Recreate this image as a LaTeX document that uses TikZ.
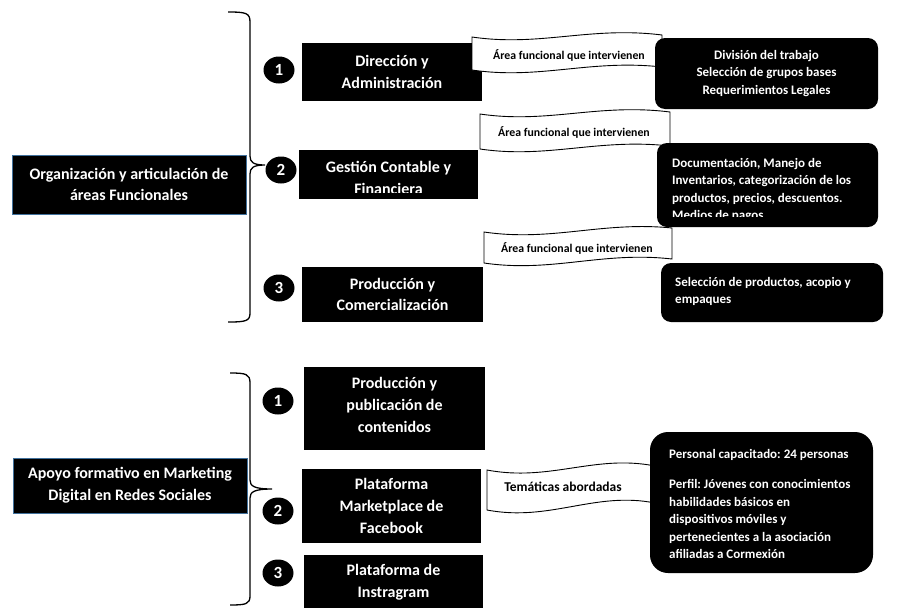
\documentclass[tikz,border=0pt]{standalone}
\usepackage{fontspec}
\setmainfont{Carlito}
\usetikzlibrary{shapes.geometric}
\definecolor{boxblue}{RGB}{65,113,156}
\frenchspacing
\begin{document}
\begin{tikzpicture}[x=1pt,y=-1pt,
  blk/.style={fill=black, draw=none, inner sep=0pt, outer sep=0pt, anchor=north west},
  mainbox/.style={blk, draw=boxblue, line width=1pt},
  rbox/.style={blk, rounded corners=10pt},
  ttl/.style={text=white, font=\bfseries\fontsize{16}{21.8}\selectfont, align=center, inner sep=0pt},
  rtx/.style={text=white, font=\bfseries\fontsize{13}{17.5}\selectfont, inner sep=0pt},
  ban/.style={draw=black, fill=white, line width=0.9pt},
  bantx/.style={font=\bfseries\fontsize{11.8}{13}\selectfont, inner sep=0pt},
  num/.style={ellipse, fill=black, minimum width=31pt, minimum height=27pt, inner sep=0pt, text=white, font=\bfseries\fontsize{17}{17}\selectfont},
  brc/.style={draw=black, line width=1.3pt}
]
\useasboundingbox[fill=white] (0,0) rectangle (901,608);

% ---------- top section ----------
\node[mainbox, ttl, minimum width=234, minimum height=59] (org) at (12,155) {Organización y articulación de\\áreas Funcionales};

\draw[brc] (228,12) .. controls (246,12) and (250,13) .. (250,22) -- (250,156)
  .. controls (250,162) and (253,165) .. (265,165)
  .. controls (253,165) and (250,168) .. (250,174) -- (250,313)
  .. controls (250,321) and (246,322) .. (228,322);

\node[num] (n1) at (279,70) {1};
\node[num] (n2) at (281,170) {2};
\node[num] (n3) at (279,288) {3};

\node[blk, ttl, minimum width=180, minimum height=58] (b1) at (302,43) {Dirección y\\Administración};
\node[blk, minimum width=179, minimum height=49] (b2) at (299,150) {};
\begin{scope}
  \clip (299,150) rectangle (478,192);
  \node[ttl] (b2t) at (388.5,178) {Gestión Contable y\\Financiera};
\end{scope}
\node[blk, ttl, minimum width=181, minimum height=55] (b3) at (302,267) {Producción y\\Comercialización};

% banners
\draw[ban] (472,37) .. controls (540,47) and (590,26) .. (662,35) -- (662,67)
  .. controls (590,59) and (540,80) .. (472,70) -- cycle;
\node[bantx] (t1) at (569,55) {Área funcional que intervienen};
\draw[ban] (480,114) .. controls (548,124) and (598,103) .. (670,112) -- (670,146)
  .. controls (598,138) and (548,159) .. (480,149) -- cycle;
\node[bantx] (t2) at (574,132) {Área funcional que intervienen};
\draw[ban] (484,232) .. controls (552,242) and (602,221) .. (672,228) -- (672,259)
  .. controls (602,251) and (552,273) .. (484,263) -- cycle;
\node[bantx] (t3) at (577,248) {Área funcional que intervienen};

% right boxes
\node[rbox, minimum width=223, minimum height=71] (r1) at (655,38) {};
\node[rtx, align=center] (r1t) at (r1.center) {División del trabajo\\Selección de grupos bases\\Requerimientos Legales};
\node[rbox, minimum width=221, minimum height=84] (r2) at (657,143) {};
\begin{scope}
  \clip (657,143) rectangle (878,216.5);
  \node[rtx, align=left, anchor=west] (r2t) at (672,190) {Documentación, Manejo de\\Inventarios, categorización de los\\productos, precios, descuentos.\\Medios de pagos};
\end{scope}
\node[rbox, minimum width=222, minimum height=59] (r3) at (661,263) {};
\node[rtx, align=left, anchor=west] (r3t) at (675,291.5) {Selección de productos, acopio y\\empaques};

% ---------- bottom section ----------
\node[mainbox, ttl, minimum width=234, minimum height=55] (org2) at (13,458) {Apoyo formativo en Marketing\\Digital en Redes Sociales};

\draw[brc] (230,373) .. controls (246,373) and (250,374) .. (250,383) -- (250,480)
  .. controls (250,486) and (254,489) .. (272,489)
  .. controls (254,489) and (250,492) .. (250,498) -- (250,596)
  .. controls (250,604) and (246,605) .. (230,605);

\node[num] (m1) at (278,401) {1};
\node[num] (m2) at (278,511) {2};
\node[num] (m3) at (278,573) {3};

\node[blk, minimum width=181, minimum height=83] (d1) at (304,367) {};
\node[ttl] (d1t) at (394.5,405) {Producción y\\publicación de\\contenidos};
\node[blk, ttl, minimum width=179, minimum height=74] (d2) at (302,469) {Plataforma\\Marketplace de\\Facebook};
\node[blk, minimum width=179, minimum height=53] (d3) at (304,555) {};
\begin{scope}
  \clip (304,555) rectangle (483,600);
  \node[ttl] (d3t) at (393.5,582) {Plataforma de\\Instragram};
\end{scope}

\draw[ban] (487,470) .. controls (550,482) and (595,454) .. (655,466) -- (655,503)
  .. controls (595,491) and (550,522) .. (487,510) -- cycle;
\node[bantx, font=\bfseries\fontsize{13.5}{15}\selectfont] (t4) at (563,487) {Temáticas abordadas};

\node[rbox, rounded corners=18pt, minimum width=223, minimum height=141] (r4) at (650,432) {};
\node[rtx, align=left, anchor=west] (r4t) at (669,504) {Personal capacitado: 24 personas\\[12.5pt]Perfil: Jóvenes con conocimientos\\habilidades básicos en\\dispositivos móviles y\\pertenecientes a la asociación\\afiliadas a Cormexión};
\end{tikzpicture}
\end{document}
